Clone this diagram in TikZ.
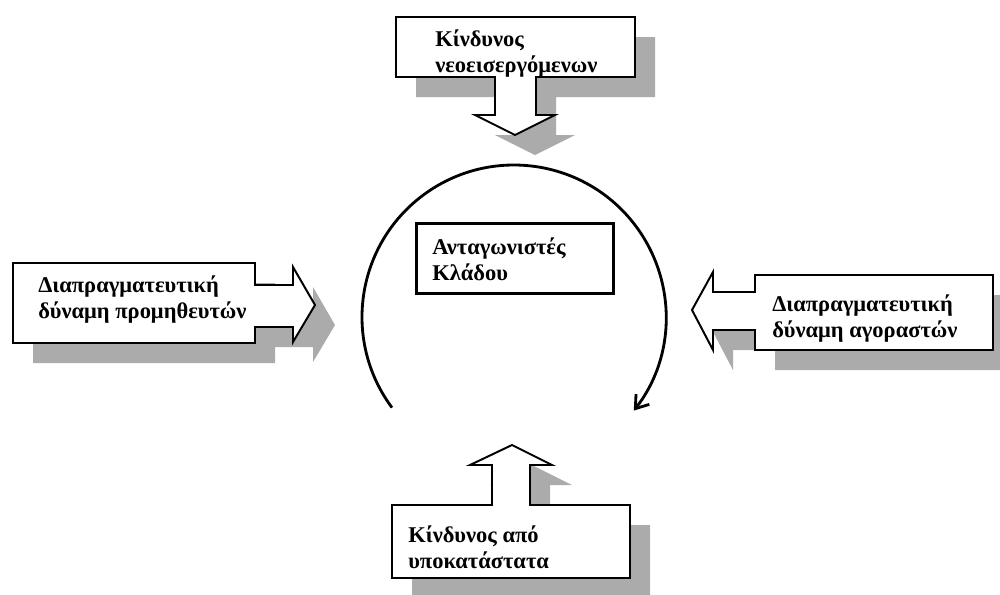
\documentclass[tikz,border=0pt]{standalone}
\usepackage{fontspec}
\setmainfont{Liberation Serif}
\usetikzlibrary{arrows.meta}
\definecolor{fcShade}{HTML}{ABABAB}

\tikzset{
    box/.style={draw=black, line width=1.4pt, fill=white},
    shade/.style={fill=fcShade},
    lbl/.style={font=\fontsize{16}{17.8}\selectfont\bfseries, align=left, anchor=base west, inner sep=0pt},
    core/.style={draw=black, line width=2.2pt, fill=white, minimum width=49.25mm, minimum height=17.5mm, anchor=north west},
}
% block arrow with its shadow
\newcommand{\blockarrow}[1]{
    \fill[shade, shift={(20,20)}] #1;
    \draw[box] #1;
}

\begin{document}
\begin{tikzpicture}[x=0.25mm, y=-0.25mm]
    \useasboundingbox (0,0) rectangle (1000,594);

    % threat of new entrants
    \blockarrow{(396,17) -- (635,17) -- (635,77) -- (536,77) -- (536,115) -- (555,115)
        -- (515,135) -- (475,115) -- (495,115) -- (495,77) -- (396,77) -- cycle}
    \node[lbl] (entrants) at (435,72) {Κίνδυνος\\νεοεισεργόμενων};

    % suppliers
    \blockarrow{(13,263) -- (255,263) -- (255,285) -- (293,285) -- (293,267) -- (315,305)
        -- (293,342) -- (293,327) -- (255,327) -- (255,343) -- (13,343) -- cycle}
    \node[lbl] (suppliers) at (38,318) {Διαπραγματευτική\\δύναμη προμηθευτών};

    % buyers
    \blockarrow{(993,275) -- (755,275) -- (755,292) -- (713,292) -- (713,272) -- (692,310)
        -- (713,350) -- (713,330) -- (755,330) -- (755,350) -- (993,350) -- cycle}
    \node[lbl] (buyers) at (772,337) {Διαπραγματευτική\\δύναμη αγοραστών};

    % substitutes
    \blockarrow{(392,505) -- (492,505) -- (492,465) -- (470,465) -- (512,445) -- (552,465)
        -- (530,465) -- (530,505) -- (630,505) -- (630,578) -- (392,578) -- cycle}
    \node[lbl] (substitutes) at (408,568) {Κίνδυνος από\\υποκατάστατα};

    % rivalry
    \node[core] (rivalry) at (415,222) {};
    \node[lbl] (rivals) at (432,280) {Ανταγωνιστές\\Κλάδου};
    \draw[line width=2pt, -{Straight Barb[length=3mm, width=4.2mm]}]
        (514,317) ++(216.6:152 and -152) arc[start angle=216.6, end angle=-38, x radius=152, y radius=-152];
\end{tikzpicture}
\end{document}
